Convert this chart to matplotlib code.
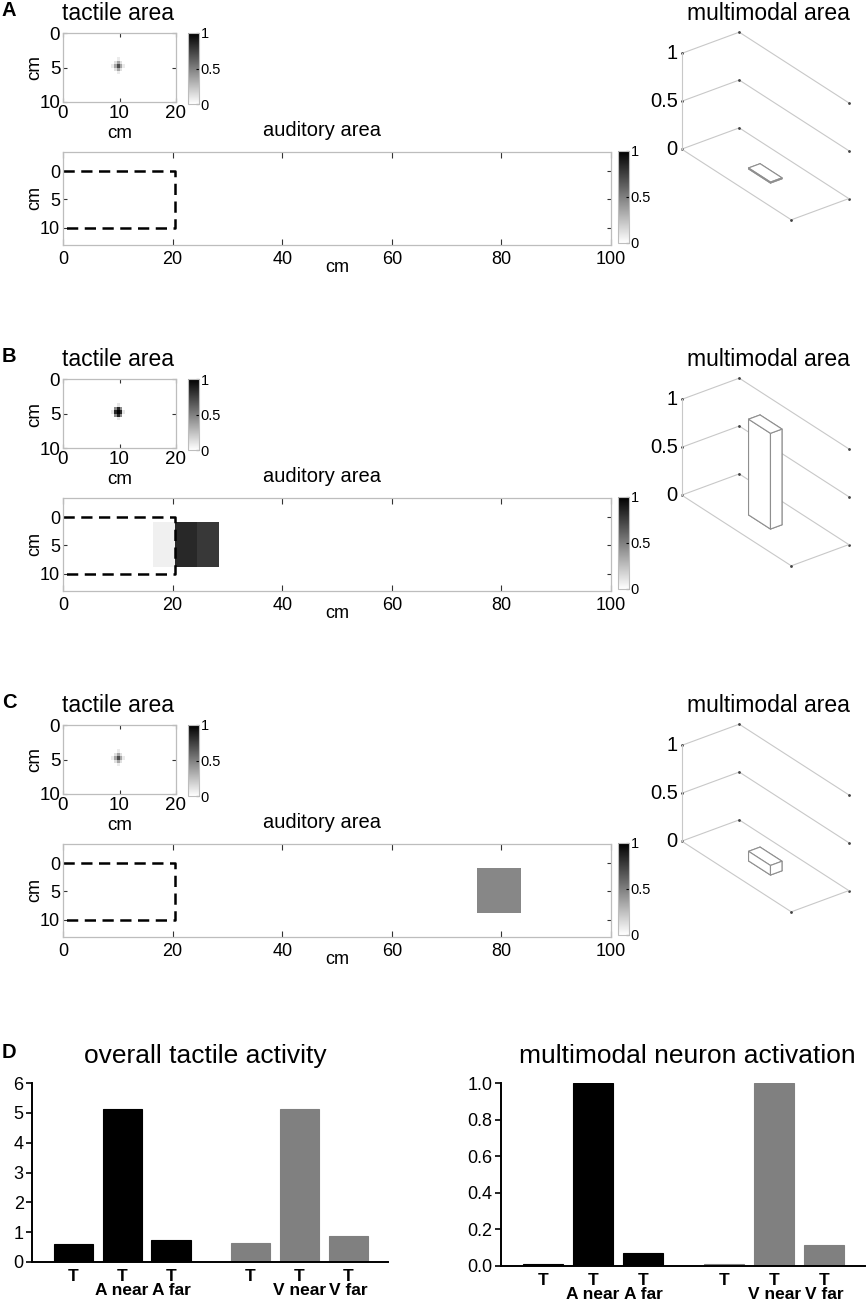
import numpy as np
import matplotlib
matplotlib.use('Agg')
import matplotlib.pyplot as plt
from matplotlib.cm import ScalarMappable
from matplotlib.colors import Normalize

plt.rcParams['font.family'] = ['Liberation Sans', 'DejaVu Sans']

W, H = 866, 1307

# ---- data ----
panels = ['A', 'B', 'C']
touch_x, touch_y = 9.75, 4.75      # centre of the touch (cm)
cell = 0.5                          # tactile grid step (cm)
tactile_patch = {
    'A': [[0, 0, .08, 0, 0],
          [0, .12, .35, .12, 0],
          [.08, .35, .70, .35, .08],
          [0, .12, .35, .12, 0],
          [0, 0, .08, 0, 0]],
    'B': [[0, 0, .10, 0, 0],
          [0, .45, .85, .45, 0],
          [.10, .85, 1.0, .85, .10],
          [0, .45, .85, .45, 0],
          [0, 0, .10, 0, 0]],
    'C': [[0, 0, .08, 0, 0],
          [0, .12, .35, .12, 0],
          [.08, .35, .70, .35, .08],
          [0, .12, .35, .12, 0],
          [0, 0, .08, 0, 0]],
}
rf_x = [0, 20.5, 20.5, 0]           # tactile RF border drawn on auditory map
rf_y = [0, 0, 10, 10]
aud_x_edges = {'A': [], 'B': [16.5, 20.5, 24.5, 28.5], 'C': [75.5, 83.5]}
aud_vals = {'A': [], 'B': [0.06, 0.84, 0.78], 'C': [0.47]}
aud_y_edges = [0.8, 8.8]
multi_height = {'A': 0.01, 'B': 1.0, 'C': 0.1}
multi_x = (0.4, 0.6)
multi_y = (0.4, 0.6)
z_ticks = [0, 0.5, 1]
z_labels = ['0', '0.5', '1']

bar_pos = [1, 2, 3, 4.62, 5.62, 6.62]
bar_labels = ['T', 'T\nA near', 'T\nA far', 'T', 'T\nV near', 'T\nV far']
tactile_activity = [0.60, 5.12, 0.75, 0.63, 5.13, 0.87]
multimodal_activation = [0.011, 1.0, 0.069, 0.01, 1.0, 0.115]
bar_colors = ['black', 'black', 'black', '#808080', '#808080', '#808080']


def box(l, t, r, b):
    return [l / W, 1 - b / H, (r - l) / W, (b - t) / H]


def ftext(x, y, s, **kw):
    fig.text(x / W, 1 - y / H, s, ha=kw.pop('ha', 'center'), va=kw.pop('va', 'center'), **kw)


def frame(ax, size):
    for s in ax.spines.values():
        s.set_color('#bdbdbd')
        s.set_linewidth(0.9)
    ax.tick_params(direction='in', length=3, width=0.8, color='#333333',
                   top=True, right=True, labelsize=size, pad=2)


def colorbar(l, t, r, b, mappable):
    cax = fig.add_axes(box(l, t, r, b))
    cb = fig.colorbar(mappable, cax=cax, ticks=[0, 0.5, 1])
    cb.ax.set_yticklabels(['0', '0.5', '1'])
    cb.outline.set_edgecolor('#bdbdbd')
    cb.outline.set_linewidth(0.8)
    cb.ax.tick_params(direction='in', length=2, width=0.8, labelsize=10.5, pad=1)


fig = plt.figure(figsize=(W / 100, H / 100), dpi=100)
norm = Normalize(0, 1)
axes3d = []

for k, p in enumerate(panels):
    dy = 346 * k

    ftext(9, 11 + dy, p, fontsize=14.5, fontweight='bold')

    # tactile area
    ax = fig.add_axes(box(63, 33 + dy, 176, 102 + dy))
    patch = np.array(tactile_patch[p])
    n = patch.shape[0]
    xe = touch_x + (np.arange(n + 1) - n / 2) * cell
    ye = touch_y + (np.arange(n + 1) - n / 2) * cell
    ax.pcolormesh(xe, ye, patch, cmap='gray_r', norm=norm, edgecolors='face', linewidth=0)
    ax.set_xlim(0, 20)
    ax.set_ylim(10, 0)
    ax.set_xticks([0, 10, 20])
    ax.set_yticks([0, 5, 10])
    frame(ax, 13.5)
    ax.tick_params(axis='x', pad=2)
    ax.tick_params(axis='y', pad=2)
    ftext(118, 13 + dy, 'tactile area', fontsize=16.5)
    ftext(120, 133 + dy, 'cm', fontsize=13.5)
    ftext(35, 68 + dy, 'cm', fontsize=13.5, rotation=90)
    colorbar(188, 33 + dy, 199, 104 + dy, ScalarMappable(norm=norm, cmap='gray_r'))

    # auditory area
    ax = fig.add_axes(box(63, 152 + dy, 611, 245 + dy))
    if aud_vals[p]:
        ax.pcolormesh(aud_x_edges[p], aud_y_edges, [aud_vals[p]], cmap='gray_r',
                      norm=norm, edgecolors='face', linewidth=0)
    ax.plot(rf_x, rf_y, color='black', lw=1.8, ls=(0, (4.5, 2.6)))
    ax.set_xlim(0, 100)
    ax.set_ylim(13.1, -3.4)
    ax.set_xticks(range(0, 101, 20))
    ax.set_yticks([0, 5, 10])
    frame(ax, 13)
    ax.tick_params(axis='x', length=4, pad=4)
    ax.tick_params(axis='y', pad=2)
    ftext(322, 131 + dy, 'auditory area', fontsize=14.5)
    ftext(337, 267 + dy, 'cm', fontsize=13)
    ftext(35, 198 + dy, 'cm', fontsize=13, rotation=90)
    colorbar(618, 151 + dy, 629, 243 + dy, ScalarMappable(norm=norm, cmap='gray_r'))

    # multimodal area
    ax3 = fig.add_axes(box(660, 10 + dy, 860, 230 + dy), projection='3d')
    ax3.set_proj_type('ortho')
    ax3.view_init(elev=29.2, azim=-37.1)
    ax3.set_box_aspect((1.657, 0.658, 1))
    ax3.set_xlim(0, 1)
    ax3.set_ylim(0, 1)
    ax3.set_zlim(0, 1)
    ax3.set_axis_off()
    x0, x1 = ax3.get_xlim()
    y0, y1 = ax3.get_ylim()
    lc = dict(color='#c8c8c8', lw=0.8)
    for z in z_ticks:
        ax3.plot([x0, x0], [y0, y1], [z, z], **lc)
        ax3.plot([x0, x1], [y1, y1], [z, z], **lc)
        ax3.plot([x0, x0, x1], [y0, y1, y1], [z, z, z], ls='none', marker='.', ms=2, color='#444444')
    ax3.plot([x0, x1, x1], [y0, y0, y1], [0, 0, 0], **lc)
    ax3.plot([x0, x0], [y0, y0], [0, 1], **lc)
    ax3.plot([x1], [y0], [0], ls='none', marker='.', ms=2, color='#444444')
    ax3.bar3d(multi_x[0], multi_y[0], 0, multi_x[1] - multi_x[0], multi_y[1] - multi_y[0],
              multi_height[p], color='white', edgecolor='#8f8f8f', linewidth=0.8, shade=False)
    ftext(768, 13 + dy, 'multimodal area', fontsize=16.5)
    axes3d.append((ax3, dy))

# panel D
ftext(9, 1053, 'D', fontsize=14.5, fontweight='bold')
for (l, t, r, b), vals, yl, ticks, tl, title, tx in [
        ((32, 1083, 388, 1262), tactile_activity, 6, range(7), [str(v) for v in range(7)],
         'overall tactile activity', 205),
        ((501, 1083, 865, 1266), multimodal_activation, 1, np.arange(0, 1.01, 0.2),
         ['%.1f' % v for v in np.arange(0, 1.01, 0.2)], 'multimodal neuron activation', 687)]:
    ax = fig.add_axes(box(l, t, r, b))
    ax.bar(bar_pos, vals, width=0.8, color=bar_colors, edgecolor=bar_colors, linewidth=0.8)
    ax.set_xlim(0.16, 7.43)
    ax.set_ylim(0, yl)
    ax.set_yticks(ticks, tl)
    ax.set_xticks(bar_pos, bar_labels, fontweight='bold', fontsize=12.5, linespacing=0.95)
    ax.spines[['top', 'right']].set_visible(False)
    ax.spines[['left', 'bottom']].set_linewidth(1.4)
    ax.tick_params(axis='x', length=0, pad=5)
    ax.tick_params(axis='y', length=4, width=1.2, labelsize=13, pad=2)
    ftext(tx, t - 27, title, fontsize=19)

# fit the 3d boxes onto their place in the figure
fig.canvas.draw()
targets = np.array([[682, 149], [739, 128], [848, 199], [792, 220], [682, 53], [739, 32]], float)


def project(ax3, xs, ys, zs):
    pts = np.vstack([xs, ys, zs, np.ones(len(xs))])
    tp = ax3.get_proj() @ pts
    return ax3.transData.transform(np.column_stack([tp[0] / tp[3], tp[1] / tp[3]]))


for ax3, dy in axes3d:
    x0, x1 = ax3.get_xlim()
    y0, y1 = ax3.get_ylim()
    disp = project(ax3, [x0, x0, x1, x1, x0, x0], [y0, y1, y1, y0, y0, y1], [0, 0, 0, 0, 1, 1])
    bb = ax3.get_position().transformed(fig.transFigure)
    cx0, cy0 = (bb.x0 + bb.x1) / 2, (bb.y0 + bb.y1) / 2
    q = disp - [cx0, cy0]
    tgt = np.column_stack([targets[:, 0], H - (targets[:, 1] + dy)])
    A = np.zeros((12, 3))
    A[0::2, 0] = q[:, 0]
    A[0::2, 1] = 1
    A[1::2, 0] = q[:, 1]
    A[1::2, 2] = 1
    sol = np.linalg.lstsq(A, tgt.ravel(), rcond=None)[0]
    s = sol[0] * bb.width
    ax3.set_position([(sol[1] - s / 2) / W, (sol[2] - s / 2) / H, s / W, s / H])
    # z tick labels next to the vertical axis
    zp = project(ax3, [x0] * 3, [y0] * 3, z_ticks)
    for (px, py), lab in zip(zp, z_labels):
        fig.text((px - 4) / W, py / H, lab, ha='right', va='center', fontsize=14.5)

fig.savefig('out.png', dpi=100)
